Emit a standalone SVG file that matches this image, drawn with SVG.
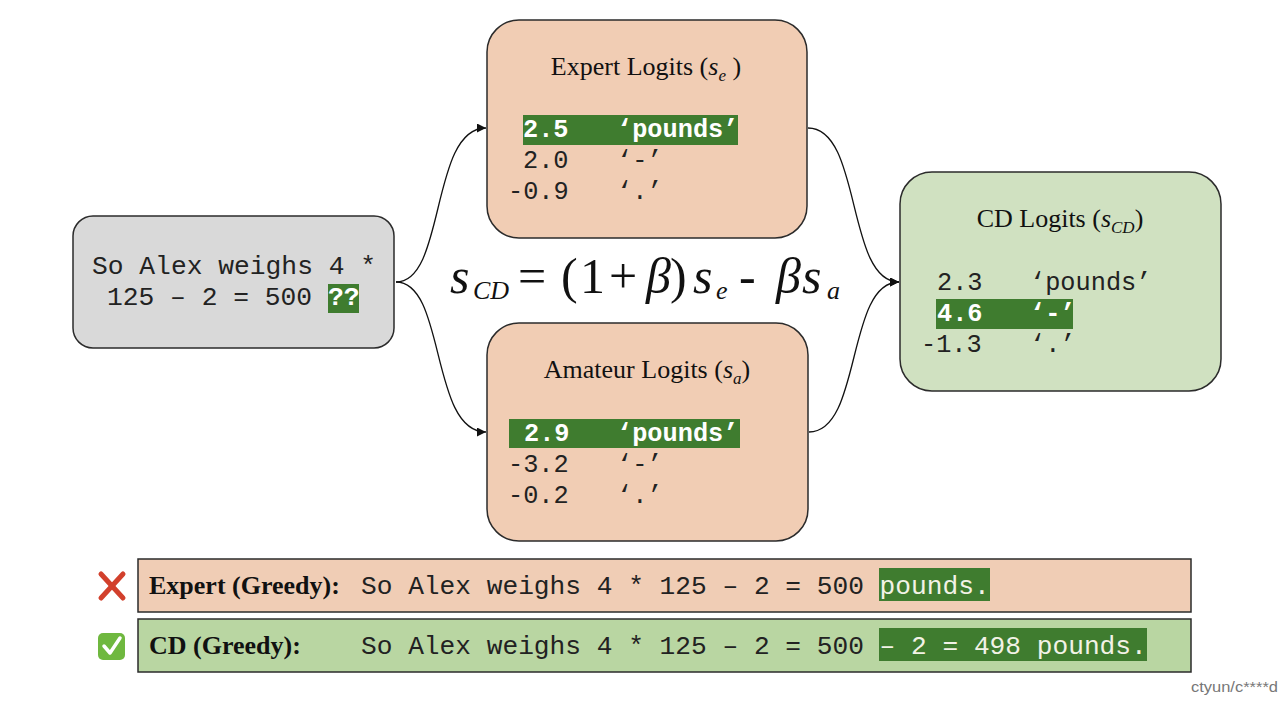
<svg xmlns="http://www.w3.org/2000/svg" width="1280" height="702" viewBox="0 0 1280 702">
<style>
.box{stroke:#2b2b2b;stroke-width:1.5}
.peach{fill:#f1cdb4}
.green{fill:#d0e1c1}
.gray{fill:#d9d9d9}
.hl{fill:#3f7c2f}
.title{font-family:"Liberation Serif",serif;font-size:26px;fill:#111}
.mono{font-family:"Liberation Mono",monospace;font-size:25.3px;fill:#222}
.monob{font-family:"Liberation Mono",monospace;font-size:25.3px;font-weight:bold;fill:#fff}
.bar{font-family:"Liberation Mono",monospace;font-size:26.2px;fill:#222}
.barhl{fill:#f2f2e6}
.lab{font-family:"Liberation Serif",serif;font-size:26px;font-weight:bold;fill:#111}
.math{font-family:"Liberation Serif",serif;font-size:50px;fill:#111}
.sub{font-size:26px;font-style:italic}
.conn{fill:none;stroke:#111;stroke-width:1.3}
</style>
<defs>
<marker id="arr" viewBox="0 0 10 10" refX="10" refY="5" markerWidth="9" markerHeight="9" markerUnits="userSpaceOnUse" orient="auto">
<path d="M0,0 L10,5 L0,10 z" fill="#111"/>
</marker>
</defs>
<rect width="1280" height="702" fill="#fff"/>

<g id="connectors">
<path class="conn" d="M396,282 C446,282 430,128 486,128" marker-end="url(#arr)"/>
<path class="conn" d="M396,282 C446,282 430,432 486,432" marker-end="url(#arr)"/>
<path class="conn" d="M808,128 C862,128 846,282 899,282" marker-end="url(#arr)"/>
<path class="conn" d="M809,432 C862,432 846,282 899,282" marker-end="url(#arr)"/>
</g>

<g id="input">
<rect class="box gray" x="73" y="216" width="321" height="132" rx="20"/>
<rect class="hl" x="328" y="284" width="31" height="29"/>
<text class="mono" x="92" y="274" style="font-size:26.3px">So Alex weighs 4 *</text>
<text class="mono" x="107" y="305" style="font-size:26.3px">125 – 2 = 500 <tspan class="monob" style="font-size:26.3px">??</tspan></text>
</g>

<g id="expert">
<rect class="box peach" x="487" y="20" width="320" height="218" rx="32"/>
<text class="title" x="646" y="75" text-anchor="middle">Expert Logits (<tspan font-style="italic">s</tspan><tspan font-style="italic" font-size="17" dy="6">e</tspan><tspan dy="-6"> )</tspan></text>
<rect class="hl" x="523" y="115" width="215" height="30"/>
<text class="monob" x="523" y="137">2.5</text>
<text class="monob" x="617" y="137">‘pounds’</text>
<text class="mono" x="523" y="168">2.0</text>
<text class="mono" x="617" y="168">‘-’</text>
<text class="mono" x="508" y="199">-0.9</text>
<text class="mono" x="617" y="199">‘.’</text>
</g>

<g id="amateur">
<rect class="box peach" x="487" y="323" width="321" height="218" rx="32"/>
<text class="title" x="647" y="378" text-anchor="middle">Amateur Logits (<tspan font-style="italic">s</tspan><tspan font-style="italic" font-size="17" dy="6">a</tspan><tspan dy="-6">)</tspan></text>
<rect class="hl" x="509" y="419" width="231" height="29"/>
<text class="monob" x="524" y="441">2.9</text>
<text class="monob" x="617" y="441">‘pounds’</text>
<text class="mono" x="508" y="472">-3.2</text>
<text class="mono" x="617" y="472">‘-’</text>
<text class="mono" x="508" y="503">-0.2</text>
<text class="mono" x="617" y="503">‘.’</text>
</g>

<g id="cd">
<rect class="box green" x="900" y="172" width="321" height="219" rx="32"/>
<text class="title" x="1060" y="227" text-anchor="middle">CD Logits (<tspan font-style="italic">s</tspan><tspan font-style="italic" font-size="17" dy="6">CD</tspan><tspan dy="-6">)</tspan></text>
<rect class="hl" x="936" y="299" width="137" height="30"/>
<text class="mono" x="937" y="290">2.3</text>
<text class="mono" x="1030" y="290">‘pounds’</text>
<text class="monob" x="937" y="321">4.6</text>
<text class="monob" x="1030" y="321">‘-’</text>
<text class="mono" x="921" y="352">-1.3</text>
<text class="mono" x="1030" y="352">‘.’</text>
</g>

<g id="formula">
<text class="math" y="293"><tspan x="450" font-style="italic">s</tspan><tspan x="473" y="299" class="sub">CD</tspan><tspan x="518" y="293">=</tspan><tspan x="561">(</tspan><tspan x="580">1</tspan><tspan x="609">+</tspan><tspan x="646" font-style="italic">β</tspan><tspan x="670">)</tspan><tspan x="693" font-style="italic">s</tspan><tspan x="716" y="299" class="sub">e</tspan><tspan x="739" y="293">-</tspan><tspan x="776" font-style="italic">β</tspan><tspan x="802" font-style="italic">s</tspan><tspan x="827" y="299" class="sub">a</tspan></text>
</g>

<g id="expert-greedy">
<rect class="box" fill="#f0cdb5" x="138" y="559" width="1053" height="53"/>
<rect class="hl" x="879" y="568" width="111" height="33"/>
<text class="lab" x="149" y="594">Expert (Greedy):</text>
<text class="bar" x="361" y="594">So Alex weighs 4 * 125 – 2 = 500 <tspan class="barhl">pounds.</tspan></text>
<g id="cross" stroke="#d2402c" stroke-width="5" stroke-linecap="round">
<line x1="101" y1="574" x2="123" y2="598"/>
<line x1="123" y1="574" x2="101" y2="598"/>
</g>
</g>

<g id="cd-greedy">
<rect class="box" fill="#b9d6a2" x="138" y="619" width="1053" height="53"/>
<rect class="hl" x="879" y="628" width="268" height="33"/>
<text class="lab" x="149" y="654">CD (Greedy):</text>
<text class="bar" x="361" y="654">So Alex weighs 4 * 125 – 2 = 500 <tspan class="barhl">– 2 = 498 pounds.</tspan></text>
<g id="check">
<rect x="98" y="633" width="27" height="27" rx="5" fill="#6fb83f"/>
<path d="M104,646 L110,653 L120,638" fill="none" stroke="#fff" stroke-width="3.5" stroke-linecap="round" stroke-linejoin="round"/>
</g>
</g>

<text x="1191" y="692" font-family="Liberation Sans, sans-serif" font-size="15" fill="#777" textLength="87" lengthAdjust="spacingAndGlyphs">ctyun/c****d</text>
</svg>
